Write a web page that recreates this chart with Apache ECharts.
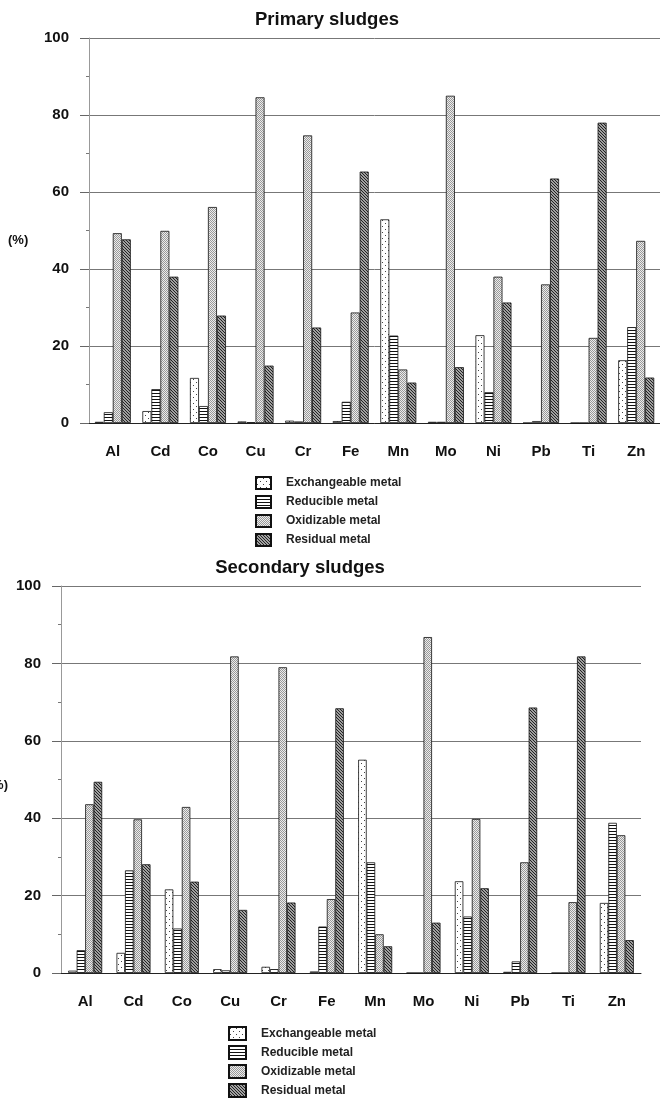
<!DOCTYPE html>
<html>
<head>
<meta charset="utf-8">
<script src="https://cdn.jsdelivr.net/npm/echarts@6/dist/echarts.min.js"></script>
<style>
  html, body { margin: 0; padding: 0; background: #fff; }
  #chart { width: 660px; height: 1102px; }
</style>
</head>
<body>
<div id="chart"></div>
<script>
// Metal fractionation (% of total) in primary and secondary sludges
const metals = ['Al', 'Cd', 'Co', 'Cu', 'Cr', 'Fe', 'Mn', 'Mo', 'Ni', 'Pb', 'Ti', 'Zn'];
const fractionNames = ['Exchangeable metal', 'Reducible metal', 'Oxidizable metal', 'Residual metal'];
const yTicks = [0, 20, 40, 60, 80, 100];

const primaryExch  = [0.3, 3.1, 11.7, 0.4, 0.6, 0.5, 52.9, 0.3, 22.8, 0, 0, 16.3];
const primaryRed   = [2.8, 8.8, 4.4, 0.2, 0.4, 5.5, 22.7, 0.3, 8.0, 0.5, 0, 24.9];
const primaryOxid  = [49.3, 49.9, 56.1, 84.6, 74.7, 28.7, 13.9, 85.0, 38.0, 36.0, 22.1, 47.3];
const primaryResid = [47.7, 38.0, 27.9, 14.9, 24.8, 65.3, 10.5, 14.5, 31.3, 63.5, 78.0, 11.8];

const secondaryExch  = [0.6, 5.2, 21.6, 1.0, 1.6, 0.4, 55.1, 0, 23.7, 0.3, 0, 18.1];
const secondaryRed   = [5.9, 26.5, 11.5, 0.7, 1.0, 12.0, 28.6, 0, 14.6, 3.0, 0, 38.8];
const secondaryOxid  = [43.6, 39.7, 42.9, 81.8, 79.0, 19.1, 10.0, 86.8, 39.8, 28.6, 18.3, 35.6];
const secondaryResid = [49.4, 28.1, 23.6, 16.3, 18.2, 68.4, 6.9, 13.0, 21.9, 68.6, 81.8, 8.5];

const FONT = '"Liberation Sans", Arial, Helvetica, sans-serif';

// Fill textures for the four fractions
function pattern(w, h, draw) {
  const c = document.createElement('canvas');
  c.width = w; c.height = h;
  const ctx = c.getContext('2d');
  draw(ctx);
  return { image: c, repeat: 'repeat' };
}
const fills = [
  // sparse dots on white
  pattern(6, 6, ctx => {
    ctx.fillStyle = '#fff'; ctx.fillRect(0, 0, 6, 6);
    ctx.fillStyle = '#444'; ctx.fillRect(1, 1, 1, 1); ctx.fillRect(4, 4, 1, 1);
  }),
  // horizontal rules
  pattern(4, 3, ctx => {
    ctx.fillStyle = '#fff'; ctx.fillRect(0, 0, 4, 3);
    ctx.fillStyle = '#111'; ctx.fillRect(0, 0, 4, 1);
  }),
  // fine grey stipple
  pattern(2, 2, ctx => {
    ctx.fillStyle = '#ececec'; ctx.fillRect(0, 0, 2, 2);
    ctx.fillStyle = '#999'; ctx.fillRect(0, 0, 1, 1); ctx.fillRect(1, 1, 1, 1);
  }),
  // dark diagonal hatch
  pattern(3, 3, ctx => {
    ctx.fillStyle = '#a0a0a0'; ctx.fillRect(0, 0, 3, 3);
    ctx.fillStyle = '#222'; ctx.fillRect(0, 0, 1, 1); ctx.fillRect(1, 1, 1, 1); ctx.fillRect(2, 2, 1, 1);
  })
];

const primarySets = [primaryExch, primaryRed, primaryOxid, primaryResid];
const secondarySets = [secondaryExch, secondaryRed, secondaryOxid, secondaryResid];

const grids = [
  { left: 89, top: 38, width: 576, height: 385 },
  { left: 61, top: 586, width: 580, height: 387 }
];

function xAxisFor(i) {
  return {
    type: 'category', gridIndex: i, data: metals,
    axisLine: { lineStyle: { color: '#222', width: 1 } },
    axisTick: { alignWithLabel: true, length: 9, lineStyle: { color: '#444' } },
    axisLabel: { fontFamily: FONT, fontWeight: 'bold', fontSize: 15, color: '#111', margin: 21 },
    splitLine: { show: false }
  };
}
function yAxisFor(i) {
  return {
    type: 'value', gridIndex: i, min: yTicks[0], max: yTicks[yTicks.length - 1], interval: 20,
    axisLine: { show: true, lineStyle: { color: '#999', width: 1 } },
    axisTick: { show: true, length: 9, lineStyle: { color: '#666' } },
    minorTick: { show: true, splitNumber: 2, length: 3, lineStyle: { color: '#777' } },
    axisLabel: { fontFamily: FONT, fontWeight: 'bold', fontSize: 15, color: '#111', margin: 20 },
    splitLine: { show: true, lineStyle: { color: '#777', width: 1 } }
  };
}

const series = [];
[primarySets, secondarySets].forEach((sets, g) => {
  sets.forEach((vals, k) => {
    series.push({
      type: 'bar', name: fractionNames[k], xAxisIndex: g, yAxisIndex: g,
      data: vals, barWidth: g === 0 ? 9 : 8.5, barGap: '0%',
      itemStyle: { color: fills[k], borderColor: '#111', borderWidth: 0.8 },
      emphasis: { disabled: true }, animation: false
    });
  });
});

function legendFor(left, top, w, h, gap, pad) {
  return {
    orient: 'vertical', left: left, top: top, height: 90, padding: 0,
    data: fractionNames,
    itemWidth: w, itemHeight: h, itemGap: gap, selectedMode: false,
    icon: 'rect',
    textStyle: { fontFamily: FONT, fontWeight: 'bold', fontSize: 12, color: '#222', padding: [0, 0, 0, pad] }
  };
}

const chart = echarts.init(document.getElementById('chart'), null, { renderer: 'canvas' });
chart.setOption({
  animation: false,
  grid: grids,
  xAxis: [xAxisFor(0), xAxisFor(1)],
  yAxis: [yAxisFor(0), yAxisFor(1)],
  legend: [legendFor(255, 476, 15, 12, 5, 10), legendFor(228, 1026, 17, 13, 4, 10)],
  series: series,
  graphic: [
    { type: 'text', x: 327, y: 20, style: { text: 'Primary sludges', font: 'bold 18.5px ' + FONT, fill: '#111', textAlign: 'center', textVerticalAlign: 'middle' } },
    { type: 'text', x: 300, y: 568, style: { text: 'Secondary sludges', font: 'bold 18.5px ' + FONT, fill: '#111', textAlign: 'center', textVerticalAlign: 'middle' } },
    { type: 'text', x: 8, y: 240, style: { text: '(%)', font: 'bold 13px ' + FONT, fill: '#111', textAlign: 'left', textVerticalAlign: 'middle' } },
    { type: 'text', x: 8, y: 785, style: { text: '(%)', font: 'bold 13px ' + FONT, fill: '#111', textAlign: 'right', textVerticalAlign: 'middle' } }
  ]
});
</script>
</body>
</html>
